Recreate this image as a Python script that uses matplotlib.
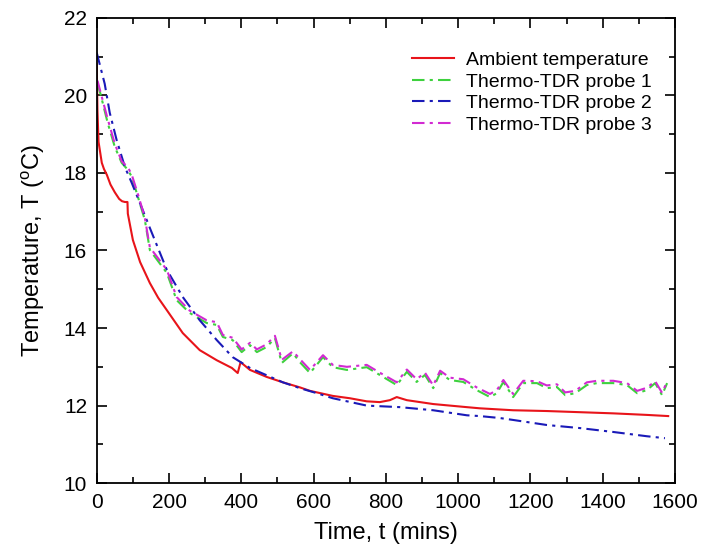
import matplotlib
matplotlib.use('Agg')
import matplotlib.pyplot as plt
import numpy as np

plt.rcParams['font.family'] = ['Liberation Sans', 'DejaVu Sans']
plt.rcParams['mathtext.fontset'] = 'custom'
plt.rcParams['mathtext.rm'] = 'Liberation Sans'

# ambient temperature
t_amb = [0, 2, 5, 10, 14, 20, 28, 38, 50, 62, 70, 78, 85, 86, 100, 120, 147, 170, 194,
         238, 285, 332, 374, 390, 398, 424, 470, 515, 562, 590, 653, 700, 747, 783, 811,
         830, 858, 931, 1024, 1060, 1115, 1152, 1245, 1337, 1429, 1522, 1581]
T_amb = [20.8, 19.6, 18.8, 18.5, 18.26, 18.1, 17.95, 17.7, 17.5, 17.33, 17.27, 17.25,
         17.25, 16.95, 16.27, 15.7, 15.16, 14.78, 14.46, 13.87, 13.43, 13.17, 12.97, 12.84,
         13.12, 12.92, 12.74, 12.6, 12.47, 12.38, 12.25, 12.19, 12.11, 12.09, 12.14, 12.22,
         12.14, 12.04, 11.96, 11.93, 11.9, 11.88, 11.86, 11.83, 11.8, 11.76, 11.73]

# probe 2
t_p2 = [0, 22, 36, 55, 78, 97, 124, 147, 194, 238, 285, 332, 376, 424, 515, 562, 609,
        653, 747, 839, 931, 1024, 1060, 1115, 1152, 1245, 1337, 1429, 1522, 1572]
T_p2 = [21.1, 20.3, 19.55, 18.85, 18.15, 17.74, 17.12, 16.58, 15.5, 14.8, 14.2, 13.69,
        13.25, 12.97, 12.6, 12.45, 12.32, 12.19, 12.0, 11.96, 11.88, 11.75, 11.73, 11.68,
        11.63, 11.5, 11.42, 11.32, 11.21, 11.16]

# probe 1 and probe 3 (same time stamps)
t_p13 = [0, 3, 10, 30, 50, 69, 86, 97, 114, 133, 141, 147, 194, 221, 257, 304, 332, 349,
         376, 401, 424, 443, 470, 493, 512, 543, 562, 590, 626, 653, 692, 747, 783, 830,
         858, 885, 908, 931, 950, 977, 1014, 1051, 1088, 1107, 1125, 1152, 1180, 1218,
         1245, 1273, 1296, 1324, 1356, 1384, 1429, 1467, 1495, 1522, 1545, 1564, 1578]
T_p1 = [20.3, 20.27, 20.05, 19.3, 18.67, 18.26, 18.08, 17.9, 17.38, 16.79, 16.35, 16.01,
        15.42, 14.72, 14.39, 14.13, 14.08, 13.77, 13.69, 13.38, 13.56, 13.38, 13.51, 13.74,
        13.1, 13.35, 13.12, 12.84, 13.25, 12.99, 12.92, 12.99, 12.79, 12.53, 12.87, 12.61,
        12.79, 12.45, 12.84, 12.66, 12.61, 12.4, 12.22, 12.32, 12.61, 12.22, 12.58, 12.58,
        12.45, 12.48, 12.27, 12.32, 12.53, 12.58, 12.58, 12.53, 12.32, 12.4, 12.58, 12.27,
        12.58]
T_p3 = [20.4, 20.35, 20.1, 19.4, 18.75, 18.3, 18.15, 17.95, 17.45, 16.85, 16.4, 16.08,
        15.5, 14.8, 14.45, 14.2, 14.15, 13.82, 13.75, 13.45, 13.62, 13.45, 13.58, 13.8,
        13.18, 13.4, 13.2, 12.92, 13.3, 13.05, 13.0, 13.05, 12.85, 12.6, 12.93, 12.68,
        12.85, 12.52, 12.9, 12.72, 12.68, 12.47, 12.3, 12.4, 12.66, 12.3, 12.64, 12.63,
        12.52, 12.55, 12.34, 12.38, 12.6, 12.64, 12.64, 12.58, 12.38, 12.46, 12.63, 12.33,
        12.62]

fig = plt.figure(figsize=(7.01, 5.56), dpi=100)
ax = fig.add_axes([0.138, 0.131, 0.825, 0.837])

dd = (6, 2.5, 1.5, 2.5)
ax.plot(t_amb, T_amb, color='#e8141a', lw=1.5, label='Ambient temperature')
ax.plot(t_p13, T_p1, color='#3ed13e', lw=1.5, dashes=dd, label='Thermo-TDR probe 1')
ax.plot(t_p2, T_p2, color='#1a1ab8', lw=1.5, dashes=dd, label='Thermo-TDR probe 2')
ax.plot(t_p13, T_p3, color='#d22ad2', lw=1.5, dashes=dd, label='Thermo-TDR probe 3')

ax.set_xlim(0, 1600)
ax.set_ylim(10, 22)
ax.set_xticks(np.arange(0, 1601, 200))
ax.set_xticks(np.arange(0, 1601, 100), minor=True)
ax.set_yticks(np.arange(10, 23, 2))
ax.set_yticks(np.arange(10, 23, 1), minor=True)
ax.tick_params(which='both', direction='in', top=True, right=True, width=1.2)
ax.tick_params(which='major', length=7, labelsize=15, pad=7)
ax.tick_params(which='minor', length=4)
for s in ax.spines.values():
    s.set_linewidth(1.3)

ax.set_xlabel('Time, t (mins)', fontsize=17, labelpad=7)
ax.set_ylabel(r'Temperature, T ($^\mathrm{o}$C)', fontsize=17, labelpad=12)

ax.legend(loc='upper right', bbox_to_anchor=(0.99, 0.965), frameon=False, fontsize=14,
          handlelength=2.2, handletextpad=0.6, labelspacing=0.2)

fig.savefig('out.png', dpi=100)
